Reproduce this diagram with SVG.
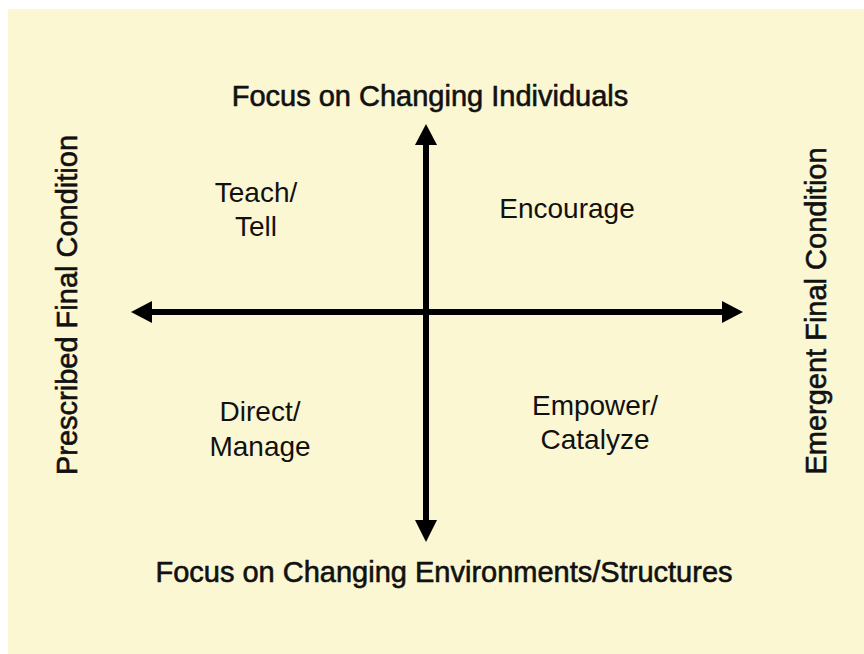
<svg xmlns="http://www.w3.org/2000/svg" width="864" height="654" viewBox="0 0 864 654">
<style>
.t{font-family:"Liberation Sans",Arial,sans-serif;font-size:28px;fill:#111;text-anchor:middle}
.h{font-size:29px;stroke:#111;stroke-width:0.6}
.ax{stroke:#000;stroke-width:6;fill:none}
.hd{fill:#000}
</style>
<rect x="8" y="9" width="856" height="645" fill="#FBF7D3"/>
<g id="connectors">
<line class="ax" x1="150" y1="312" x2="724" y2="312"/>
<line class="ax" x1="426" y1="143" x2="426" y2="522"/>
<polygon class="hd" points="131,312 152,301 152,323"/>
<polygon class="hd" points="743,312 722,301 722,323"/>
<polygon class="hd" points="426,124 415,145 437,145"/>
<polygon class="hd" points="426,542 415,520 437,520"/>
</g>
<g id="top-label"><text class="t h" x="430" y="106">Focus on Changing Individuals</text></g>
<g id="bottom-label"><text class="t h" x="444" y="582">Focus on Changing Environments/Structures</text></g>
<g id="left-label"><text class="t h" transform="translate(77,305) rotate(-90)">Prescribed Final Condition</text></g>
<g id="right-label"><text class="t h" transform="translate(826,311) rotate(-90)">Emergent Final Condition</text></g>
<g id="teach-tell"><text class="t" x="256" y="202">Teach/</text><text class="t" x="256" y="236">Tell</text></g>
<g id="encourage"><text class="t" x="567" y="218">Encourage</text></g>
<g id="direct-manage"><text class="t" x="260" y="421">Direct/</text><text class="t" x="260" y="456">Manage</text></g>
<g id="empower-catalyze"><text class="t" x="595" y="415">Empower/</text><text class="t" x="595" y="449">Catalyze</text></g>
</svg>
